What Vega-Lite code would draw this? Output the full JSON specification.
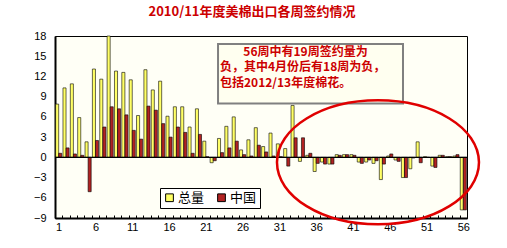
{
  "$schema": "https://vega.github.io/schema/vega-lite/v6.json",
  "width": 412,
  "height": 182,
  "autosize": {"type": "none"},
  "padding": {"left": 55, "top": 36, "right": 40, "bottom": 30},
  "background": "white",
  "title": {"text": "2010/11年度美棉出口各周签约情况", "color": "#CC0000", "font": "Noto Sans CJK SC", "fontSize": 13, "fontWeight": "bold", "anchor": "middle", "offset": 11, "dx": -9},
  "config": {
    "view": {"stroke": "black", "strokeWidth": 1, "fill": "#FFFFF6"},
    "axisY": {"labelOverlap": false}
  },
  "datasets": {
    "weekly": [
      {"week":1,"series":"总量","value":7.9},{"week":1,"series":"中国","value":0.6},
      {"week":2,"series":"总量","value":10.3},{"week":2,"series":"中国","value":1.4},
      {"week":3,"series":"总量","value":10.9},{"week":3,"series":"中国","value":0.5},
      {"week":4,"series":"总量","value":5.9},{"week":4,"series":"中国","value":0.3},
      {"week":5,"series":"总量","value":2.3},{"week":5,"series":"中国","value":-5.1},
      {"week":6,"series":"总量","value":13.1},{"week":6,"series":"中国","value":2.5},
      {"week":7,"series":"总量","value":11.6},{"week":7,"series":"中国","value":4.5},
      {"week":8,"series":"总量","value":18.0},{"week":8,"series":"中国","value":7.5},
      {"week":9,"series":"总量","value":12.8},{"week":9,"series":"中国","value":7.2},
      {"week":10,"series":"总量","value":12.6},{"week":10,"series":"中国","value":6.3},
      {"week":11,"series":"总量","value":11.5},{"week":11,"series":"中国","value":4.0},
      {"week":12,"series":"总量","value":6.2},{"week":12,"series":"中国","value":2.7},
      {"week":13,"series":"总量","value":13.0},{"week":13,"series":"中国","value":7.6},
      {"week":14,"series":"总量","value":10.0},{"week":14,"series":"中国","value":7.0},
      {"week":15,"series":"总量","value":11.3},{"week":15,"series":"中国","value":5.0},
      {"week":16,"series":"总量","value":6.1},{"week":16,"series":"中国","value":3.0},
      {"week":17,"series":"总量","value":7.5},{"week":17,"series":"中国","value":4.5},
      {"week":18,"series":"总量","value":7.5},{"week":18,"series":"中国","value":3.7},
      {"week":19,"series":"总量","value":4.5},{"week":19,"series":"中国","value":0.6},
      {"week":20,"series":"总量","value":7.2},{"week":20,"series":"中国","value":3.4},
      {"week":21,"series":"总量","value":2.4},{"week":21,"series":"中国","value":0.1},
      {"week":22,"series":"总量","value":-0.8},{"week":22,"series":"中国","value":-0.5},
      {"week":23,"series":"总量","value":2.8},{"week":23,"series":"中国","value":0.7},
      {"week":24,"series":"总量","value":4.6},{"week":24,"series":"中国","value":1.4},
      {"week":25,"series":"总量","value":6.0},{"week":25,"series":"中国","value":2.4},
      {"week":26,"series":"总量","value":1.1},{"week":26,"series":"中国","value":0.4},
      {"week":27,"series":"总量","value":2.6},{"week":27,"series":"中国","value":0.2},
      {"week":28,"series":"总量","value":4.4},{"week":28,"series":"中国","value":1.8},
      {"week":29,"series":"总量","value":1.6},{"week":29,"series":"中国","value":0.8},
      {"week":30,"series":"总量","value":3.6},{"week":30,"series":"中国","value":0.2},
      {"week":31,"series":"总量","value":2.0},{"week":31,"series":"中国","value":0.1},
      {"week":32,"series":"总量","value":1.3},{"week":32,"series":"中国","value":-1.3},
      {"week":33,"series":"总量","value":7.7},{"week":33,"series":"中国","value":2.9},
      {"week":34,"series":"总量","value":-0.6},{"week":34,"series":"中国","value":2.9},
      {"week":35,"series":"总量","value":0.3},{"week":35,"series":"中国","value":0.6},
      {"week":36,"series":"总量","value":-2.1},{"week":36,"series":"中国","value":-0.9},
      {"week":37,"series":"总量","value":-0.7},{"week":37,"series":"中国","value":-1.0},
      {"week":38,"series":"总量","value":-1.0},{"week":38,"series":"中国","value":-1.0},
      {"week":39,"series":"总量","value":0.4},{"week":39,"series":"中国","value":0.3},
      {"week":40,"series":"总量","value":0.4},{"week":40,"series":"中国","value":0.4},
      {"week":41,"series":"总量","value":0.4},{"week":41,"series":"中国","value":0.3},
      {"week":42,"series":"总量","value":-0.7},{"week":42,"series":"中国","value":-0.9},
      {"week":43,"series":"总量","value":-0.7},{"week":43,"series":"中国","value":-0.4},
      {"week":44,"series":"总量","value":-0.9},{"week":44,"series":"中国","value":-0.5},
      {"week":45,"series":"总量","value":-3.3},{"week":45,"series":"中国","value":-1.0},
      {"week":46,"series":"总量","value":0.2},{"week":46,"series":"中国","value":0.5},
      {"week":47,"series":"总量","value":-0.4},{"week":47,"series":"中国","value":-0.6},
      {"week":48,"series":"总量","value":-3.0},{"week":48,"series":"中国","value":-3.0},
      {"week":49,"series":"总量","value":-1.7},{"week":49,"series":"中国","value":-0.1},
      {"week":50,"series":"总量","value":2.3},{"week":50,"series":"中国","value":-0.8},
      {"week":51,"series":"总量","value":0.1},{"week":51,"series":"中国","value":0.0},
      {"week":52,"series":"总量","value":-1.3},{"week":52,"series":"中国","value":-1.5},
      {"week":53,"series":"总量","value":0.3},{"week":53,"series":"中国","value":0.3},
      {"week":54,"series":"总量","value":0.1},{"week":54,"series":"中国","value":0.1},
      {"week":55,"series":"总量","value":0.2},{"week":55,"series":"中国","value":0.4},
      {"week":56,"series":"总量","value":-7.8},{"week":56,"series":"中国","value":-7.8}
    ],
    "notebox": [{"x1": 22.66, "x2": 47.8, "value": 8.0, "value2": 16.8}],
    "notetext": [
      {"tx": 26.1, "value": 15.6, "line": "56周中有19周签约量为"},
      {"tx": 22.93, "value": 13.35, "line": "负，其中4月份后有18周为负，"},
      {"tx": 22.93, "value": 11.1, "line": "包括2012/13年度棉花。"}
    ],
    "ellipse": [{"ex": 44.4, "value": -0.74}]
  },
  "layer": [
    {
      "data": {"name": "weekly"},
      "mark": {"type": "bar", "stroke": "black", "strokeWidth": 0.6},
      "encoding": {
        "x": {
          "field": "week", "type": "ordinal",
          "scale": {"paddingInner": 0, "paddingOuter": 0},
          "axis": {
            "title": null, "labelAngle": 0,
            "labelExpr": "(datum.value - 1) % 5 === 0 ? datum.label : ''",
            "tickBand": "extent", "tickSize": -3, "tickColor": "black", "tickWidth": 1,
            "labelPadding": 6, "labelFont": "Liberation Sans", "labelFontSize": 11, "labelColor": "black",
            "domainColor": "black", "domainWidth": 2
          }
        },
        "xOffset": {"field": "series", "sort": ["总量", "中国"], "scale": {"paddingOuter": 0.2, "paddingInner": 0}},
        "y": {
          "field": "value", "type": "quantitative",
          "scale": {"domain": [-9, 18], "nice": false},
          "axis": {
            "title": null, "values": [-9, -6, -3, 0, 3, 6, 9, 12, 15, 18], "tickCount": 12, "ticks": false, "grid": false,
            "labelOverlap": false,
            "labelPadding": 9, "labelFont": "Liberation Sans", "labelFontSize": 11, "labelColor": "black",
            "domainColor": "black", "domainWidth": 2
          }
        },
        "color": {
          "field": "series", "type": "nominal", "sort": ["总量", "中国"],
          "scale": {"domain": ["总量", "中国"], "range": ["#FFFF66", "#B22222"]},
          "legend": {
            "title": null, "orient": "none", "legendX": 105, "legendY": 152, "direction": "horizontal",
            "strokeColor": "black", "fillColor": "white", "padding": 3,
            "symbolType": "square", "symbolSize": 60, "symbolStrokeColor": "black", "symbolStrokeWidth": 1,
            "labelFont": "Noto Sans CJK SC", "labelFontSize": 13, "labelColor": "black", "columnPadding": 10, "labelOffset": 2
          }
        }
      }
    },
    {
      "data": {"values": [{}]},
      "mark": {"type": "rule", "color": "black", "strokeWidth": 1.2},
      "encoding": {"y": {"datum": 0}}
    },
    {
      "data": {"name": "notebox"},
      "mark": {"type": "rect", "fill": "#FFFFF0", "stroke": "#808080", "strokeWidth": 2},
      "encoding": {
        "x": {"field": "x1", "type": "quantitative", "scale": {"domain": [0.5, 56.5], "nice": false, "zero": false}, "axis": null},
        "x2": {"field": "x2"},
        "y": {"field": "value", "type": "quantitative"},
        "y2": {"field": "value2"}
      }
    },
    {
      "data": {"name": "notetext"},
      "mark": {"type": "text", "align": "left", "baseline": "middle", "font": "Noto Sans CJK SC", "fontSize": 12, "fontWeight": "bold", "color": "#CC0000"},
      "encoding": {
        "x": {"field": "tx", "type": "quantitative", "scale": {"domain": [0.5, 56.5], "nice": false, "zero": false}, "axis": null},
        "y": {"field": "value", "type": "quantitative"},
        "text": {"field": "line"}
      }
    },
    {
      "data": {"name": "ellipse"},
      "mark": {"type": "point", "filled": false, "stroke": "#E00000", "strokeWidth": 2.5, "opacity": 1,
        "shape": "M -1 0 C -1 -0.339 -0.552 -0.614 0 -0.614 C 0.552 -0.614 1 -0.339 1 0 C 1 0.339 0.552 0.614 0 0.614 C -0.552 0.614 -1 0.339 -1 0 Z",
        "size": 40804},
      "encoding": {
        "x": {"field": "ex", "type": "quantitative", "scale": {"domain": [0.5, 56.5], "nice": false, "zero": false}, "axis": null},
        "y": {"field": "value", "type": "quantitative"}
      }
    }
  ],
  "resolve": {"scale": {"x": "independent"}}
}
